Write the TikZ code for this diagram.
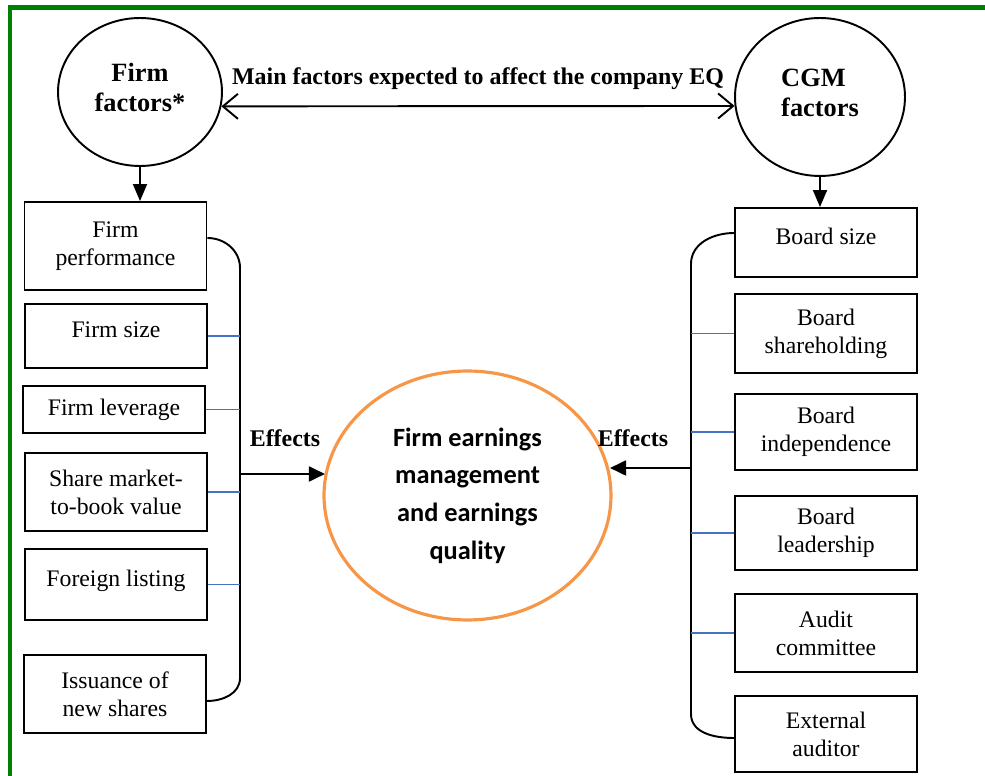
\documentclass[tikz,border=0pt]{standalone}
\usepackage{fontspec}
\setmainfont{Liberation Serif}
\newfontfamily\calibri{Carlito}
\usetikzlibrary{arrows.meta}
\usetikzlibrary{shapes}
\definecolor{framegreen}{RGB}{0,128,0}
\definecolor{tickblue}{RGB}{68,114,196}
\definecolor{eqorange}{RGB}{247,150,70}
\tikzset{
  factorbox/.style={draw, line width=1.1pt, minimum width=3.64cm, inner sep=0pt, align=center, font=\fontsize{13.5}{16}\selectfont},
  factorcircle/.style={draw, ellipse, line width=1.1pt, inner sep=0pt, font=\fontsize{15}{17}\selectfont\bfseries},
  boldlabel/.style={font=\fontsize{13.6}{15}\selectfont\bfseries},
  bluetick/.style={tickblue, line width=0.8pt},
  downarrow/.style={line width=1.1pt, -{Triangle[length=0.34cm,width=0.28cm]}},
  effectarrow/.style={line width=1.1pt, -{Triangle[length=0.32cm,width=0.3cm]}},
}

\begin{document}
\begin{tikzpicture}[x=0.02cm, y=-0.02cm]
\useasboundingbox (0,0) rectangle (985,776);
\draw[framegreen, line width=2.3pt] (10,776) -- (10,7.5) -- (985,7.5);

% circles and the big ellipse
\node[factorcircle, minimum width=3.28cm, minimum height=2.96cm, align=center] (firm) at (140,92) {Firm\\factors*\\[-12pt]~};
\node[factorcircle, minimum width=3.4cm, minimum height=3.16cm, align=left] (cgm) at (820,97) {CGM\\factors\hspace{0.2cm}\\[-12pt]~};
\node[draw=eqorange, ellipse, line width=1.8pt, minimum width=5.74cm, minimum height=4.98cm, align=center,
  font=\calibri\fontsize{15}{21.5}\selectfont\bfseries] (eq) at (467.5,495.5) {Firm earnings\\management\\and earnings\\quality};

\draw[line width=1.1pt, {Straight Barb[length=0.3cm,width=0.5cm]}-{Straight Barb[length=0.3cm,width=0.5cm]}] (firm.-10) -- (cgm.186) node[midway, above=0.2cm, boldlabel] (main) {Main factors expected to affect the company EQ};

% firm factors
\node[factorbox, minimum height=1.76cm] (perf) at (115.5,246) {Firm\\performance};
\node[factorbox, minimum height=1.28cm] (fsize) at (116,336) {Firm size\\[-9pt]~};
\node[factorbox, minimum height=0.94cm] (flev) at (114,409.5) {Firm leverage};
\node[factorbox, minimum height=1.56cm] (mtb) at (116,492) {Share market-\\to-book value};
\node[factorbox, minimum height=1.42cm] (flist) at (116,584.5) {Foreign listing\\[-9pt]~};
\node[factorbox, minimum height=1.56cm] (issue) at (115,694) {Issuance of\\new shares};

% CGM factors
\node[factorbox, minimum height=1.38cm] (bsize) at (826,242.5) {Board size\\[-9pt]~};
\node[factorbox, minimum height=1.58cm] (bshare) at (826,333.5) {Board\\shareholding};
\node[factorbox, minimum height=1.52cm] (bind) at (826,432) {Board\\independence};
\node[factorbox, minimum height=1.48cm] (blead) at (826,533) {Board\\leadership};
\node[factorbox, minimum height=1.56cm] (audit) at (826,633) {Audit\\committee};
\node[factorbox, minimum height=1.52cm] (extaud) at (826,734) {External\\auditor};

\draw[downarrow] (firm.south) -- (firm.south |- perf.north);
\draw[downarrow] (cgm.south) -- (cgm.south |- bsize.north);

% left bracket
\coordinate (lbus) at (240,474);
\draw[line width=1.1pt] ([yshift=0.16cm]perf.east) to[out=0,in=90] (240,268) -- (240,678) to[out=-90,in=0] ([yshift=-0.14cm]issue.east);
\foreach \b in {fsize,flev,mtb,flist}
  \draw[bluetick] (\b.east) -- (\b.east -| lbus);
\draw[effectarrow] (lbus) -- ([xshift=0.05cm]lbus -| eq.west);
\node[boldlabel] (effl) at (285,438) {Effects};

% right bracket
\coordinate (rbus) at (691,468);
\draw[line width=1.1pt] ([yshift=0.19cm]bsize.west) to[out=180,in=90] (691,264) -- (691,714) to[out=-90,in=180] ([yshift=-0.08cm]extaud.west);
\foreach \b in {bshare,bind,blead,audit}
  \draw[bluetick] (\b.west) -- (\b.west -| rbus);
\draw[effectarrow] (rbus) -- ([xshift=-0.05cm]rbus -| eq.east);
\node[boldlabel] (effr) at (633,438) {Effects};
\end{tikzpicture}
\end{document}
